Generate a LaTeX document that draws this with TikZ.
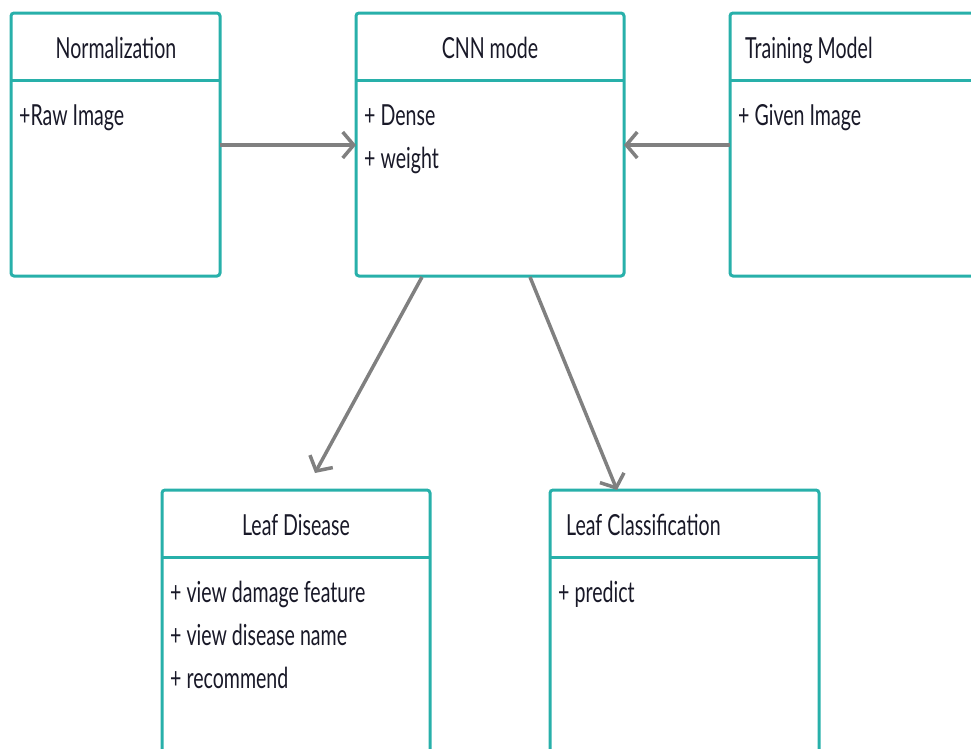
\documentclass[tikz,border=0pt]{standalone}
\usepackage{fontspec}
\setmainfont{Lato}[FakeStretch=0.675]
\usetikzlibrary{arrows.meta}
\definecolor{teal1}{RGB}{40,176,170}
\definecolor{arrowgray}{RGB}{128,128,128}
\definecolor{txt}{RGB}{25,25,40}
\tikzset{
  umlbox/.style={draw=teal1, line width=3pt, rounded corners=3pt, fill=white},
  divider/.style={draw=teal1, line width=3pt},
  lbl/.style={inner sep=0pt, font=\fontsize{29}{34}\selectfont, text=txt, anchor=base},
  item/.style={lbl, anchor=base west},
  conn/.style={draw=arrowgray, line width=3.5pt, -{Straight Barb[length=11pt,width=26pt,line width=3.5pt]}},
}
\begin{document}
\begin{tikzpicture}[x=1pt,y=-1pt]
\useasboundingbox (0,0) rectangle (971,748);
\clip (0,0) rectangle (971,748);
% boxes
\draw[umlbox] (11,13) rectangle (220,276);
\draw[divider] (11,80) -- (220,80);
\draw[umlbox] (356,13) rectangle (624,276);
\draw[divider] (356,80) -- (624,80);
\draw[umlbox] (730,13) rectangle (1010,276);
\draw[divider] (730,80) -- (1010,80);
\draw[umlbox] (162,490) rectangle (430,790);
\draw[divider] (162,557) -- (430,557);
\draw[umlbox] (550,490) rectangle (819,790);
\draw[divider] (550,557) -- (819,557);
% named anchors
\coordinate (normR) at (220,145);
\coordinate (cnnL) at (356,145);
\coordinate (cnnR) at (624,145);
\coordinate (trainL) at (730,145);
\coordinate (cnnB1) at (422,277);
\coordinate (disT) at (315,473);
\coordinate (cnnB2) at (530,277);
\coordinate (clsT) at (617,490);
% texts
\node[lbl] (tnorm) at (116,58) {Normalization};
\node[item] (inorm) at (19,125) {+Raw Image};
\node[lbl] (tcnn) at (490,58) {CNN mode};
\node[item] (icnn1) at (364,125) {+ Dense};
\node[item] (icnn2) at (364,168) {+ weight};
\node[item] (ttrain) at (745,58) {Training Model};
\node[item] (itrain) at (738,125) {+ Given Image};
\node[lbl] (tdis) at (296,535) {Leaf Disease};
\node[item] (idis1) at (170,602) {+ view damage feature};
\node[item] (idis2) at (170,645) {+ view disease name};
\node[item] (idis3) at (170,688) {+ recommend};
\node[item] (tcls) at (566,535) {Leaf Classification};
\node[item] (icls) at (558,602) {+ predict};
% connectors
\draw[conn] (normR) -- (cnnL);
\draw[conn] (trainL) -- (cnnR);
\draw[conn] (cnnB1) -- (disT);
\draw[conn] (cnnB2) -- (clsT);
\end{tikzpicture}
\end{document}
